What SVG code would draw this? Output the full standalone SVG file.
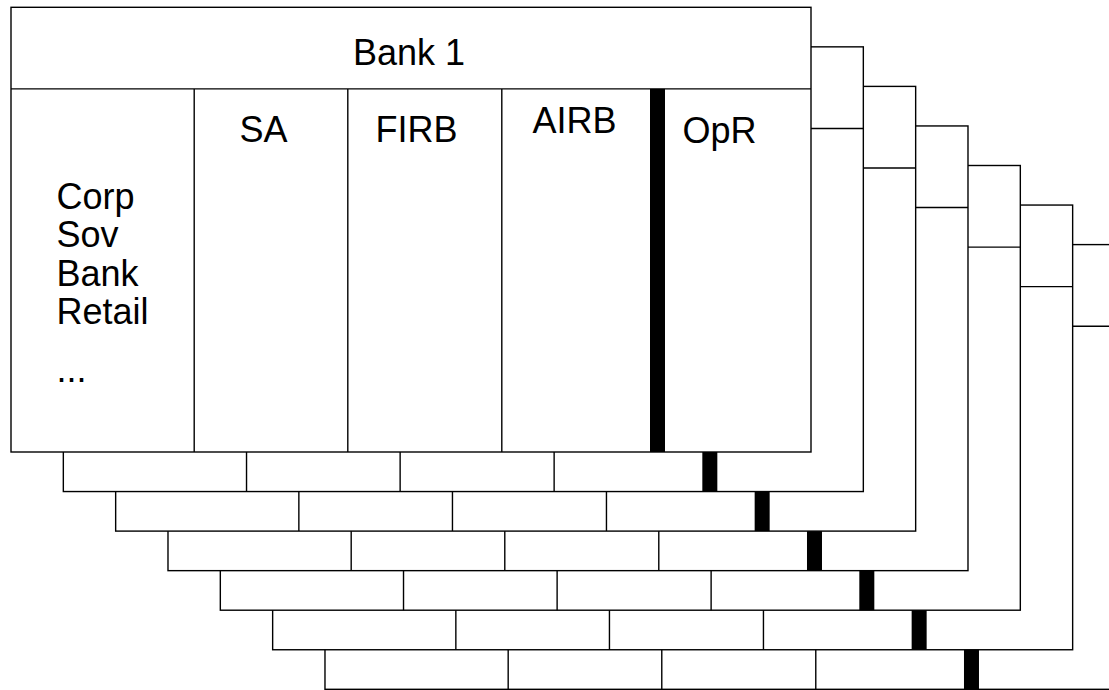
<svg xmlns="http://www.w3.org/2000/svg" xmlns:xlink="http://www.w3.org/1999/xlink" width="1109" height="690" viewBox="0 0 1109 690">
  <style>
    .frame { fill: #ffffff; stroke: #000000; stroke-width: 1.4; }
    .line { stroke: #000000; stroke-width: 1.4; fill: none; }
    .bar { fill: #000000; stroke: none; }
    .lbl { font-family: "Liberation Sans", Arial, sans-serif; font-size: 36px; fill: #000000; }
  </style>
  <defs>
    <g id="card-frame">
      <rect class="frame" x="0" y="0" width="800" height="444.7"/>
      <line class="line" x1="0" y1="81.6" x2="800" y2="81.6"/>
      <line class="line" x1="183.2" y1="81.6" x2="183.2" y2="444.7"/>
      <line class="line" x1="336.8" y1="81.6" x2="336.8" y2="444.7"/>
      <line class="line" x1="490.8" y1="81.6" x2="490.8" y2="444.7"/>
      <rect class="bar" x="639" y="81.6" width="15" height="363.1"/>
    </g>
  </defs>
  <g id="cards">
    <g id="bank-7" transform="translate(324.98 244.6)"><use xlink:href="#card-frame" href="#card-frame"/></g>
    <g id="bank-6" transform="translate(272.65 205.05)"><use xlink:href="#card-frame" href="#card-frame"/></g>
    <g id="bank-5" transform="translate(220.32 165.5)"><use xlink:href="#card-frame" href="#card-frame"/></g>
    <g id="bank-4" transform="translate(167.99 125.95)"><use xlink:href="#card-frame" href="#card-frame"/></g>
    <g id="bank-3" transform="translate(115.66 86.4)"><use xlink:href="#card-frame" href="#card-frame"/></g>
    <g id="bank-2" transform="translate(63.33 46.85)"><use xlink:href="#card-frame" href="#card-frame"/></g>
    <g id="bank-1" transform="translate(11 7.3)">
      <use xlink:href="#card-frame" href="#card-frame"/>
    </g>
    <g id="bank-1-labels">
      <text class="lbl" x="409" y="65" text-anchor="middle">Bank 1</text>
      <text class="lbl" x="263.5" y="141.7" text-anchor="middle">SA</text>
      <text class="lbl" x="416.5" y="141.7" text-anchor="middle">FIRB</text>
      <text class="lbl" x="574.5" y="133.3" text-anchor="middle">AIRB</text>
      <text class="lbl" x="719.5" y="143.3" text-anchor="middle">OpR</text>
      <text class="lbl" x="56.5" y="209">Corp</text>
      <text class="lbl" x="56.5" y="247">Sov</text>
      <text class="lbl" x="56.5" y="286">Bank</text>
      <text class="lbl" x="56.5" y="324">Retail</text>
      <text class="lbl" x="56.5" y="382">...</text>
    </g>
  </g>
</svg>
